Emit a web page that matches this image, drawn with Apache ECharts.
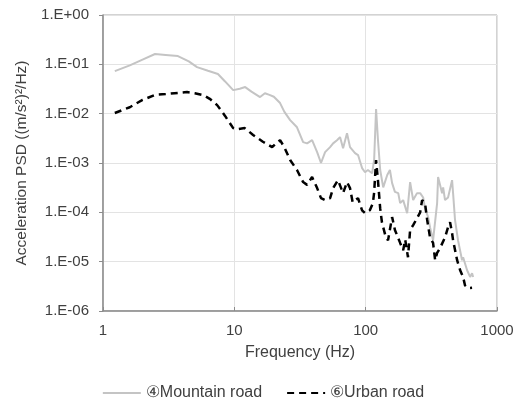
<!DOCTYPE html>
<html>
<head>
<meta charset="utf-8">
<script src="https://cdn.jsdelivr.net/npm/echarts@6/dist/echarts.min.js"></script>
<style>html,body{margin:0;padding:0;background:#fff}#c{width:526px;height:408px}</style>
</head>
<body>
<div id="c"></div>
<script>
const seriesNames = ['④Mountain road', '⑥Urban road'];

const mountainFreq = [1.23, 1.6, 2.0, 2.49, 3.0, 3.72, 4.5, 5.2, 6.3, 7.5, 8.5, 9.8, 11, 12.1, 13.5, 15.7, 17.1, 18.5, 20, 22.3, 24, 26.6, 30, 33.4, 35.8, 39.1, 42.7, 45.7, 49.1, 53.6, 56.5, 60.5, 63.8, 67.3, 72.1, 76, 83, 87.5, 93.9, 98.9, 104, 112, 116, 120, 124, 129, 136, 146, 153, 159, 167, 177, 183, 193, 207, 218, 230, 246, 260, 274, 283, 299, 309, 326, 350, 356, 382, 389, 402, 424, 455, 463, 479, 505, 542, 552, 592, 624, 646, 658];
const mountainPSD = [0.073, 0.095, 0.125, 0.162, 0.155, 0.147, 0.115, 0.088, 0.074, 0.0636, 0.045, 0.030, 0.032, 0.0346, 0.028, 0.0217, 0.026, 0.024, 0.022, 0.0164, 0.011, 0.0074, 0.0053, 0.00265, 0.0025, 0.0029, 0.00166, 0.0010, 0.00166, 0.0021, 0.0025, 0.0029, 0.00335, 0.0020, 0.0040, 0.0021, 0.00159, 0.00145, 0.00079, 0.00065, 0.00072, 0.00062, 0.00115, 0.0124, 0.003, 0.00072, 0.00032, 0.00057, 0.00072, 0.00039, 0.00026, 0.000245, 0.000154, 0.000177, 0.000096, 0.00041, 0.000177, 0.000245, 0.000245, 0.0002, 0.00012, 0.00008, 0.00005, 0.000027, 0.000154, 0.00052, 0.000245, 0.00032, 0.000177, 0.0002, 0.00045, 0.000245, 0.00007, 0.000027, 0.0000107, 0.0000123, 0.0000067, 0.0000049, 0.0000058, 0.0000049];

const urbanFreq = [1.23, 1.6, 2.0, 2.49, 3.0, 3.5, 4.36, 5.0, 5.8, 6.5, 7.4, 8.5, 9.8, 10.5, 12, 13.9, 16.5, 19.4, 20.5, 22.3, 24, 26.6, 30, 33.4, 35.8, 39.1, 42.7, 45.7, 49.1, 53.6, 56.5, 61.5, 67.3, 72.1, 76, 79.6, 87.5, 93.9, 98.9, 107.6, 113.5, 116, 120, 124, 129, 133, 141, 148, 159, 167, 177, 183, 193, 200, 210, 218, 230, 246, 260, 269, 283, 294, 309, 326, 338, 350, 369, 402, 424, 439, 455, 463, 497, 524, 552, 571, 603, 646];
const urbanPSD = [0.0103, 0.0135, 0.019, 0.024, 0.025, 0.026, 0.0275, 0.026, 0.0238, 0.02, 0.0149, 0.009, 0.0051, 0.0048, 0.0051, 0.0037, 0.0027, 0.0021, 0.0024, 0.0029, 0.0021, 0.00115, 0.00072, 0.00041, 0.00036, 0.00052, 0.00031, 0.000194, 0.000177, 0.000194, 0.00031, 0.00045, 0.000245, 0.00041, 0.00031, 0.00016, 0.000194, 0.00011, 0.000096, 0.00011, 0.000154, 0.00025, 0.00115, 0.00045, 0.00012, 0.000063, 0.0000345, 0.000027, 0.00008, 0.000044, 0.00003, 0.000024, 0.000017, 0.000028, 0.0000123, 0.000044, 0.000055, 0.000076, 0.0001, 0.000177, 0.000154, 0.00007, 0.000031, 0.000024, 0.0000107, 0.000015, 0.000019, 0.000031, 0.00005, 0.000063, 0.000038, 0.000027, 0.0000107, 0.0000067, 0.0000049, 0.0000033, 0.0000029, 0.00000295];

const xTicks = [1, 10, 100, 1000];

function pairs(xs, ys) { return xs.map((x, i) => [x, ys[i]]); }
function expLabel(v) {
  const e = Math.round(Math.log10(v));
  const s = e < 0 ? '-' : '+';
  const a = Math.abs(e);
  return '1.E' + s + (a < 10 ? '0' : '') + a;
}

const font = 'Liberation Sans, Arial, sans-serif';
const chart = echarts.init(document.getElementById('c'), null, {renderer: 'canvas'});
chart.setOption({
  animation: false,
  backgroundColor: '#fff',
  grid: {left: 103, right: 29, top: 15, bottom: 97, show: true, borderColor: '#a6a6a6', borderWidth: 1},
  legend: {
    bottom: 2, left: 'center', itemWidth: 38, itemHeight: 14, itemGap: 24,
    itemStyle: {opacity: 0},
    textStyle: {fontFamily: font, fontSize: 16, color: '#404040'},
    data: seriesNames
  },
  xAxis: {
    type: 'log', logBase: 10, min: 1, max: 1000,
    name: 'Frequency (Hz)', nameLocation: 'middle', nameGap: 34,
    nameTextStyle: {fontFamily: font, fontSize: 16, color: '#404040'},
    axisLine: {lineStyle: {color: '#8c8c8c', width: 1.5}},
    axisTick: {show: true, inside: true, length: 4, lineStyle: {color: '#8c8c8c'}},
    minorTick: {show: false},
    axisLabel: {fontFamily: font, fontSize: 15, color: '#404040', margin: 12, formatter: v => String(Math.round(v))},
    splitLine: {show: true, lineStyle: {color: '#e3e3e3', width: 1}}
  },
  yAxis: {
    type: 'log', logBase: 10, min: 1e-6, max: 1,
    name: 'Acceleration PSD ((m/s²)²/Hz)', nameLocation: 'middle', nameGap: 72,
    nameTextStyle: {fontFamily: font, fontSize: 15.5, color: '#404040'},
    axisLine: {lineStyle: {color: '#8c8c8c', width: 1.5}},
    axisTick: {show: true, length: 4, lineStyle: {color: '#8c8c8c'}},
    axisLabel: {fontFamily: font, fontSize: 15, color: '#404040', margin: 14, formatter: expLabel},
    splitLine: {show: true, lineStyle: {color: '#e3e3e3', width: 1}}
  },
  series: [
    {name: seriesNames[0], type: 'line', symbol: 'none', data: pairs(mountainFreq, mountainPSD),
     lineStyle: {color: '#c4c4c4', width: 2}, itemStyle: {color: '#c4c4c4'}},
    {name: seriesNames[1], type: 'line', symbol: 'none', data: pairs(urbanFreq, urbanPSD),
     lineStyle: {color: '#000', width: 2.5, type: [7, 5]}, itemStyle: {color: '#000'}}
  ]
});
</script>
</body>
</html>
